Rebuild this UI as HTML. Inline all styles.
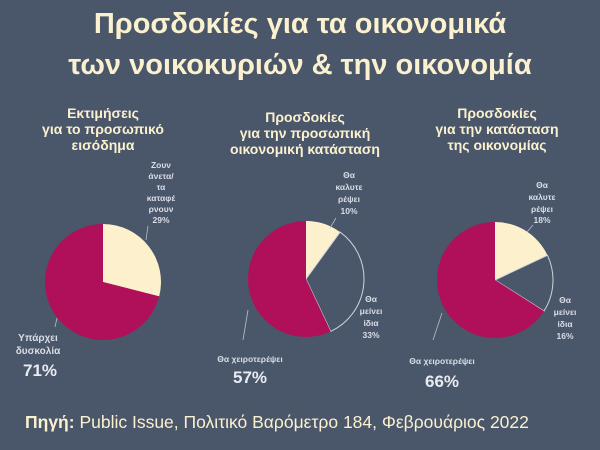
<!DOCTYPE html>
<html><head><meta charset="utf-8"><style>
html,body{margin:0;padding:0;background:#4a5669;}
svg{display:block}
.t{font-family:"Liberation Sans","DejaVu Sans",sans-serif;}
</style></head><body>
<svg width="600" height="450" viewBox="0 0 600 450" class="t">
<rect width="600" height="450" fill="#4a5669"/>
<g fill="#fbf1cf" font-weight="bold" font-size="29" text-anchor="middle">
<text x="300" y="33">Προσδοκίες για τα οικονομικά</text>
<text x="300" y="74">των νοικοκυριών &amp; την οικονομία</text>
</g>
<g fill="#fbf1cf" font-weight="bold" font-size="14" text-anchor="middle">
<text x="103" y="118">Εκτιμήσεις</text><text x="103" y="134">για το προσωπικό</text><text x="103" y="150">εισόδημα</text>
<text x="305" y="122">Προσδοκίες</text><text x="305" y="138">για την προσωπική</text><text x="305" y="154">οικονομική κατάσταση</text>
<text x="497" y="118">Προσδοκίες</text><text x="497" y="134">για την κατάσταση</text><text x="497" y="150">της οικονομίας</text>
</g>
<g id="pies"></g>
<g fill="#d9dee8" font-weight="bold" font-size="8.5" text-anchor="middle">
<text x="161" y="168">Ζουν</text><text x="161" y="179">άνετα/</text><text x="161" y="190">τα</text><text x="161" y="201">καταφέ</text><text x="161" y="212">ρνουν</text><text x="161" y="223">29%</text>
<line x1="148" y1="226" x2="146" y2="240" stroke="#b8bfcc" stroke-width="0.8"/>
<text x="38" y="341" font-size="10">Υπάρχει</text><text x="38" y="354" font-size="10">δυσκολία</text>
<text x="40" y="376" font-size="17" fill="#e8ecf2">71%</text>
<line x1="55" y1="327" x2="57" y2="318" stroke="#b8bfcc" stroke-width="0.8"/>
<text x="349" y="178">Θα</text><text x="349" y="190">καλυτε</text><text x="349" y="202">ρέψει</text><text x="349" y="214">10%</text>
<line x1="336" y1="218" x2="330" y2="228" stroke="#b8bfcc" stroke-width="0.8"/>
<text x="371" y="302">Θα</text><text x="371" y="314">μείνει</text><text x="371" y="326">ίδια</text><text x="371" y="338">33%</text>
<text x="250" y="362">Θα χειροτερέψει</text>
<text x="250" y="383" font-size="17" fill="#e8ecf2">57%</text>
<line x1="243" y1="340" x2="248" y2="310" stroke="#b8bfcc" stroke-width="0.8"/>
<text x="542" y="188">Θα</text><text x="542" y="200">καλυτε</text><text x="542" y="212">ρέψει</text><text x="542" y="223">18%</text>
<line x1="533" y1="225" x2="527" y2="232" stroke="#b8bfcc" stroke-width="0.8"/>
<text x="565" y="303">Θα</text><text x="565" y="315">μείνει</text><text x="565" y="327">ίδια</text><text x="565" y="339">16%</text>
<text x="442" y="364">Θα χειροτερέψει</text>
<text x="442" y="387" font-size="17" fill="#e8ecf2">66%</text>
<line x1="433" y1="340" x2="442" y2="313" stroke="#b8bfcc" stroke-width="0.8"/>
</g>
<text x="25" y="428" font-size="17.5" fill="#fbf1cf"><tspan font-weight="bold">Πηγή:</tspan> Public Issue, Πολιτικό Βαρόμετρο 184, Φεβρουάριος 2022</text>
</svg>
<script>
const pieNames = ["income", "personal", "economy"];
const catBetter = [29, 10, 18];
const catSame = [0, 33, 16];
const catWorse = [71, 57, 66];
const centers = [[103,282],[306,279],[495,280]];
const R = 58;
const colors = ["#fdf0cc", "#4a5669", "#b0105a"];
const NS = "http://www.w3.org/2000/svg";
const g = document.getElementById("pies");
function pt(cx, cy, frac){const a = frac*2*Math.PI - Math.PI/2; return [cx+R*Math.cos(a), cy+R*Math.sin(a)];}
pieNames.forEach((nm,i)=>{
  const vals = [catBetter[i], catSame[i], catWorse[i]];
  const tot = vals.reduce((a,b)=>a+b,0);
  const [cx,cy] = centers[i];
  let acc = 0;
  vals.forEach((v,j)=>{
    if (v<=0) return;
    const f0 = acc/tot, f1 = (acc+v)/tot; acc += v;
    const p0 = pt(cx,cy,f0), p1 = pt(cx,cy,f1);
    const large = (f1-f0) > 0.5 ? 1 : 0;
    const p = document.createElementNS(NS,"path");
    p.setAttribute("d", `M${cx},${cy} L${p0[0]},${p0[1]} A${R},${R} 0 ${large} 1 ${p1[0]},${p1[1]} Z`);
    p.setAttribute("fill", colors[j]);
    if (j===1){ p.setAttribute("stroke","#d0d4dc"); p.setAttribute("stroke-width","1"); }
    
    
    g.appendChild(p);
  });
});
</script>
</body></html>
